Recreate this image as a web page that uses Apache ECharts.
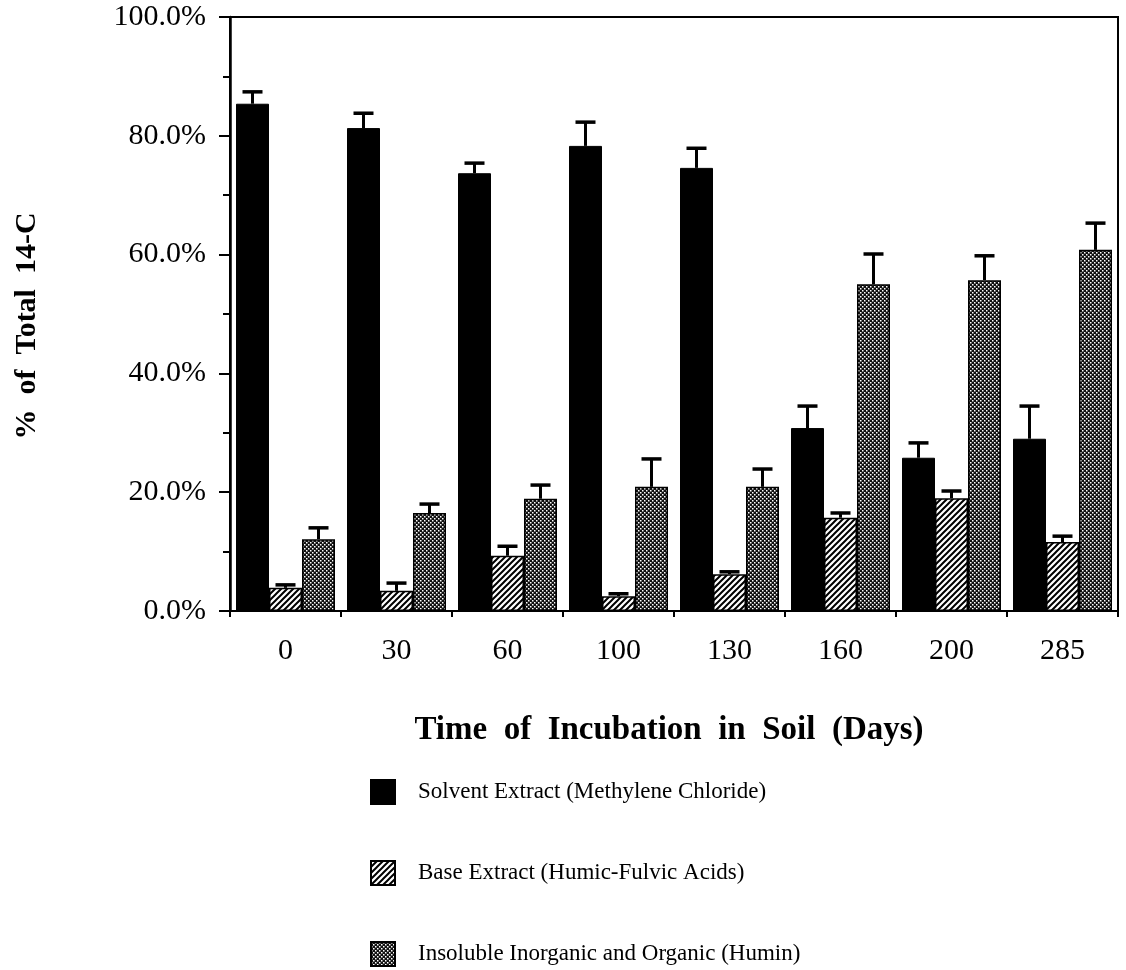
<!DOCTYPE html>
<html>
<head>
<meta charset="utf-8">
<script src="https://cdn.jsdelivr.net/npm/echarts@6/dist/echarts.min.js"></script>
<style>
  html, body { margin: 0; padding: 0; background: #fff; }
  #chart { width: 1126px; height: 970px; }
</style>
</head>
<body>
<div id="chart"></div>
<script>
// ---- data ----
const categories = ['0', '30', '60', '100', '130', '160', '200', '285'];
const solvent    = [85.4, 81.3, 73.7, 78.3, 74.6, 30.8, 25.8, 29.0];
const solventErr = [87.4, 83.8, 75.4, 82.3, 77.9, 34.5, 28.3, 34.5];
const base       = [3.9, 3.4, 9.3, 2.5, 6.2, 15.7, 19.0, 11.6];
const baseErr    = [4.4, 4.7, 10.9, 2.9, 6.6, 16.5, 20.2, 12.6];
const humin      = [12.1, 16.5, 18.9, 20.9, 20.9, 55.0, 55.7, 60.8];
const huminErr   = [14.0, 18.0, 21.2, 25.6, 23.9, 60.1, 59.8, 65.3];
const seriesNames = [
  'Solvent Extract (Methylene Chloride)',
  'Base Extract (Humic-Fulvic Acids)',
  'Insoluble Inorganic and Organic (Humin)'
];
const xTitle = 'Time  of  Incubation  in  Soil  (Days)';
const yTitle = '%  of  Total  14-C';

// ---- patterns ----
function hatchPattern() {
  const c = document.createElement('canvas');
  c.width = 6; c.height = 6;
  const g = c.getContext('2d');
  g.fillStyle = '#fff'; g.fillRect(0, 0, 6, 6);
  g.strokeStyle = '#000'; g.lineWidth = 2;
  g.beginPath();
  g.moveTo(-1, 7); g.lineTo(7, -1);
  g.moveTo(-4, 4); g.lineTo(4, -4);
  g.moveTo(2, 10); g.lineTo(10, 2);
  g.stroke();
  return c;
}
function dotPattern() {
  const c = document.createElement('canvas');
  c.width = 4; c.height = 4;
  const g = c.getContext('2d');
  g.fillStyle = '#111'; g.fillRect(0, 0, 4, 4);
  g.fillStyle = '#fff';
  g.fillRect(0, 0, 1.5, 1.5);
  g.fillRect(2, 2, 1.5, 1.5);
  return c;
}
const hatch = { image: hatchPattern(), repeat: 'repeat' };
const dots = { image: dotPattern(), repeat: 'repeat' };

const BAR_W = 33;
const FONT = '"Liberation Serif", "Times New Roman", serif';

function errSeries(vals, errs, offsetIdx) {
  return {
    type: 'custom',
    z: 5,
    silent: true,
    data: vals.map((v, i) => [i, v, errs[i]]),
    renderItem: function (params, api) {
      const i = api.value(0);
      const p0 = api.coord([i, api.value(1)]);
      const p1 = api.coord([i, api.value(2)]);
      const x = p0[0] + offsetIdx * BAR_W;
      return {
        type: 'group',
        children: [
          { type: 'line', shape: { x1: x, y1: p0[1], x2: x, y2: p1[1] },
            style: { stroke: '#000', lineWidth: 3 } },
          { type: 'line', shape: { x1: x - 10, y1: p1[1], x2: x + 10, y2: p1[1] },
            style: { stroke: '#000', lineWidth: 3.5 } }
        ]
      };
    }
  };
}

const chart = echarts.init(document.getElementById('chart'));
chart.setOption({
  animation: false,
  backgroundColor: '#fff',
  grid: { left: 230, right: 8, top: 17, bottom: 359, show: true,
          borderColor: '#000', borderWidth: 2, backgroundColor: 'transparent' },
  legend: {
    data: seriesNames,
    orient: 'vertical',
    left: 370, top: 779,
    padding: 0,
    icon: 'rect',
    itemWidth: 24, itemHeight: 24,
    itemGap: 55,
    textStyle: { fontFamily: FONT, fontSize: 23, color: '#000', padding: [0, 0, 0, 18] }
  },
  xAxis: {
    type: 'category',
    data: categories,
    axisLine: { lineStyle: { color: '#000', width: 2 } },
    axisTick: { show: true, length: 6, lineStyle: { color: '#000', width: 2 } },
    axisLabel: { fontFamily: FONT, fontSize: 30, color: '#000', margin: 25 }
  },
  yAxis: {
    type: 'value',
    min: 0, max: 100, interval: 20,
    axisLine: { show: true, lineStyle: { color: '#000', width: 2.5 } },
    axisTick: { show: true, length: 11, lineStyle: { color: '#000', width: 2 } },
    minorTick: { show: true, splitNumber: 2, length: 7, lineStyle: { color: '#000', width: 2 } },
    splitLine: { show: false },
    axisLabel: { fontFamily: FONT, fontSize: 30, color: '#000', margin: 24,
                 formatter: v => v.toFixed(1) + '%' }
  },
  graphic: [
    { type: 'text', x: 669, y: 730,
      style: { text: xTitle, font: 'bold 33px ' + FONT, fill: '#000',
               textAlign: 'center', textVerticalAlign: 'middle' } },
    { type: 'text', x: 27, y: 326, rotation: Math.PI / 2,
      style: { text: yTitle, font: 'bold 30px ' + FONT, fill: '#000',
               textAlign: 'center', textVerticalAlign: 'middle' } }
  ],
  series: [
    { name: seriesNames[0], type: 'bar', data: solvent, barWidth: BAR_W, barGap: '0%',
      itemStyle: { color: '#000', borderColor: '#000', borderWidth: 1 } },
    { name: seriesNames[1], type: 'bar', data: base, barWidth: BAR_W, barGap: '0%',
      itemStyle: { color: hatch, borderColor: '#000', borderWidth: 1.5 } },
    { name: seriesNames[2], type: 'bar', data: humin, barWidth: BAR_W, barGap: '0%',
      itemStyle: { color: dots, borderColor: '#000', borderWidth: 1.5 } },
    errSeries(solvent, solventErr, -1),
    errSeries(base, baseErr, 0),
    errSeries(humin, huminErr, 1)
  ]
});
</script>
</body>
</html>
